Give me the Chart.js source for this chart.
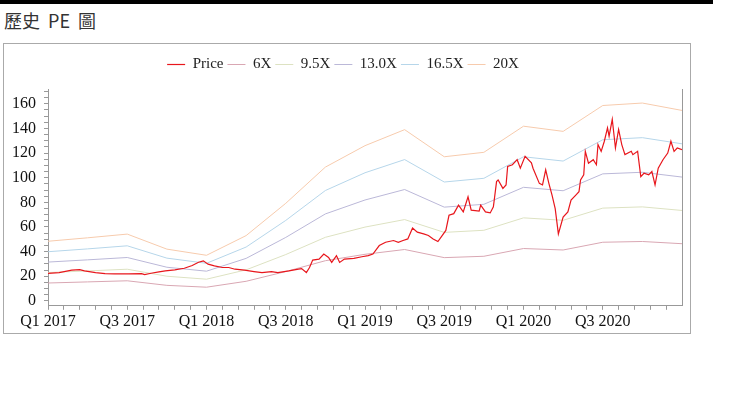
<!DOCTYPE html>
<html>
<head>
<meta charset="utf-8">
<script src="https://cdn.jsdelivr.net/npm/chart.js@4"></script>
<style>
  body { margin: 0; background: #fff; }
  #topbar { position: absolute; left: 0; top: 0; width: 713px; height: 4px; background: #000; }
  #title { position: absolute; left: 4px; top: 7px; font: 18px "Noto Sans CJK TC", sans-serif; word-spacing: 4px; color: #333; }
  #box { position: absolute; left: 3px; top: 43px; width: 686px; height: 289px; border: 1px solid #aaa; }
</style>
</head>
<body>
<div id="topbar"></div>
<div id="title">歷史 PE 圖</div>
<div id="box"><canvas id="pe" width="686" height="289"></canvas></div>
<script>
// band vertices, quarterly (decimal years)
const bandYears = [2017, 2017.25, 2017.5, 2017.75, 2018, 2018.25, 2018.5, 2018.75,
  2019, 2019.25, 2019.5, 2019.75, 2020, 2020.25, 2020.5, 2020.75, 2021];
const sixX = [14.5, 15.4, 16.3, 12.6, 11.1, 15.9, 23.8, 32.6, 37.8, 41.7, 35.1, 36.2, 42.5, 41.3, 47.6, 48.2, 46.4];
const nineFiveX = [23.0, 24.3, 25.7, 20.0, 17.6, 25.2, 37.6, 51.6, 59.9, 66.0, 55.6, 57.3, 67.4, 65.4, 75.3, 76.3, 73.4];
const thirteenX = [31.5, 33.3, 35.2, 27.3, 24.1, 34.5, 51.5, 70.6, 81.9, 90.4, 76.1, 78.4, 92.2, 89.4, 103.1, 104.4, 100.5];
const sixteenFiveX = [39.9, 42.2, 44.7, 34.7, 30.5, 43.7, 65.3, 89.6, 104.0, 114.7, 96.5, 99.5, 117.0, 113.5, 130.8, 132.5, 127.5];
const twentyX = [48.4, 51.2, 54.2, 42.0, 37.0, 53.0, 79.2, 108.6, 126.0, 139.0, 117.0, 120.6, 141.8, 137.6, 158.6, 160.6, 154.6];

// price
const priceYears = [2017.00, 2017.07, 2017.15, 2017.20, 2017.23, 2017.30, 2017.36, 2017.42, 2017.51, 2017.59,
  2017.61, 2017.65, 2017.70, 2017.74, 2017.80, 2017.86, 2017.91, 2017.95, 2017.98, 2018.01,
  2018.05, 2018.10, 2018.14, 2018.18, 2018.24, 2018.30, 2018.35, 2018.41, 2018.45, 2018.52,
  2018.58, 2018.60, 2018.63, 2018.65, 2018.67, 2018.71, 2018.74, 2018.77, 2018.79, 2018.82,
  2018.84, 2018.87, 2018.93, 2018.98, 2019.02, 2019.05, 2019.09, 2019.13, 2019.18, 2019.21,
  2019.24, 2019.27, 2019.30, 2019.33, 2019.37, 2019.40, 2019.43, 2019.46, 2019.48, 2019.51,
  2019.53, 2019.56, 2019.59, 2019.62, 2019.65, 2019.67, 2019.72, 2019.73, 2019.76, 2019.79,
  2019.81, 2019.83, 2019.84, 2019.87, 2019.89, 2019.90, 2019.93, 2019.96, 2019.98, 2020.01,
  2020.05, 2020.06, 2020.10, 2020.12, 2020.14, 2020.16, 2020.18, 2020.20, 2020.22, 2020.25,
  2020.28, 2020.30, 2020.33, 2020.35, 2020.36, 2020.38, 2020.39, 2020.41, 2020.44, 2020.46,
  2020.47, 2020.49, 2020.51, 2020.53, 2020.54, 2020.56, 2020.58, 2020.60, 2020.62, 2020.64,
  2020.68, 2020.69, 2020.72, 2020.74, 2020.76, 2020.79, 2020.81, 2020.83, 2020.85, 2020.88,
  2020.91, 2020.93, 2020.95, 2020.97, 2021.00];
const priceValues = [22.4, 23.0, 24.9, 25.4, 24.3, 23.0, 22.1, 21.9, 21.9, 22.1,
  21.3, 22.4, 23.5, 24.3, 25.2, 26.5, 28.7, 31.4, 32.5, 29.8,
  28.4, 27.1, 27.1, 25.7, 24.9, 23.8, 23.0, 23.8, 23.0, 24.3,
  25.7, 26.2, 23.0, 27.1, 33.1, 33.9, 38.0, 35.3, 31.2, 36.7,
  31.2, 33.9, 34.5, 35.8, 36.7, 38.0, 44.9, 47.6, 49.0, 47.6,
  49.0, 50.3, 59.1, 55.8, 54.4, 53.1, 50.3, 48.2, 51.7, 57.2,
  69.5, 70.8, 77.7, 72.2, 84.5, 73.6, 72.8, 77.7, 72.2, 71.4,
  76.3, 96.8, 98.2, 91.3, 94.1, 109.1, 110.5, 114.6, 107.7, 117.3,
  112.0, 107.7, 95.4, 94.1, 106.4, 95.4, 85.9, 74.9, 54.4, 68.1,
  72.2, 81.8, 85.9, 88.6, 98.2, 102.3, 121.4, 111.8, 114.6, 110.5,
  126.9, 121.4, 129.6, 140.5, 133.7, 147.4, 124.1, 139.2, 126.9, 118.7,
  121.4, 118.7, 121.4, 100.9, 103.6, 102.3, 105.0, 94.1, 107.7, 114.6,
  120.0, 129.6, 121.4, 124.1, 122.8];

const serif = '"Liberation Serif", "Times New Roman", serif';
const pts = (xs, ys) => xs.map((x, i) => ({ x, y: ys[i] }));

const band = (label, vals, color) => ({
  label, data: pts(bandYears, vals), borderColor: color, backgroundColor: color,
  borderWidth: 1, pointRadius: 0, tension: 0, yAxisID: 'y'
});

// extra gap under the legend
const legendGap = {
  id: 'legendGap',
  beforeInit(chart) {
    const fit = chart.legend.fit;
    chart.legend.fit = function () {
      fit.call(this);
      this.height += 7;
    };
  }
};

new Chart(document.getElementById('pe'), {
  type: 'line',
  plugins: [legendGap],
  data: {
    datasets: [
      { label: 'Price', data: pts(priceYears, priceValues), borderColor: '#e8161c', backgroundColor: '#e8161c',
        borderWidth: 1.2, pointRadius: 0, tension: 0, yAxisID: 'y' },
      band('6X', sixX, '#d9a7b3'),
      band('9.5X', nineFiveX, '#dde2c2'),
      band('13.0X', thirteenX, '#bbb8d8'),
      band('16.5X', sixteenFiveX, '#b6d6ea'),
      band('20X', twentyX, '#f7cbad')
    ]
  },
  options: {
    responsive: false,
    animation: false,
    layout: { padding: { left: 0, right: 8, top: 9, bottom: 0 } },
    plugins: {
      tooltip: { enabled: false },
      legend: {
        position: 'top',
        labels: {
          usePointStyle: true, pointStyle: 'line', pointStyleWidth: 18, boxWidth: 18,
          padding: 4, color: '#222', font: { family: serif, size: 15 }
        }
      }
    },
    scales: {
      x: {
        type: 'linear', min: 2017, max: 2021,
        afterBuildTicks: axis => {
          const t = [];
          for (let i = 0; i < 40; i++) t.push({ value: Math.round((2017 + i / 10) * 10) / 10 });
          axis.ticks = t;
        },
        ticks: {
          autoSkip: false, maxRotation: 0, padding: 2, color: '#111',
          font: { family: serif, size: 16 },
          callback: v => {
            const r = Math.round(v * 10) / 10;
            if (Math.abs(r - Math.round(r)) < 1e-6) return 'Q1 ' + Math.round(r);
            if (Math.abs(r - Math.floor(r) - 0.5) < 1e-6) return 'Q3 ' + Math.floor(r);
            return '';
          }
        },
        grid: { drawOnChartArea: false, tickLength: 4, color: '#999' },
        border: { color: '#999' }
      },
      y: {
        min: -4, max: 172,
        afterBuildTicks: axis => {
          const t = [];
          for (let v = 0; v <= 170; v += 5) t.push({ value: v });
          axis.ticks = t;
        },
        ticks: {
          autoSkip: false, padding: 8, color: '#111',
          font: { family: serif, size: 16 },
          callback: v => (v % 20 === 0 ? v : '')
        },
        grid: { drawOnChartArea: false, tickLength: 4, color: '#999' },
        border: { color: '#999' }
      },
      y2: {
        position: 'right', min: -4, max: 172,
        ticks: { display: false },
        grid: { display: false, drawTicks: false },
        border: { color: '#999' }
      }
    }
  }
});
</script>
</body>
</html>
